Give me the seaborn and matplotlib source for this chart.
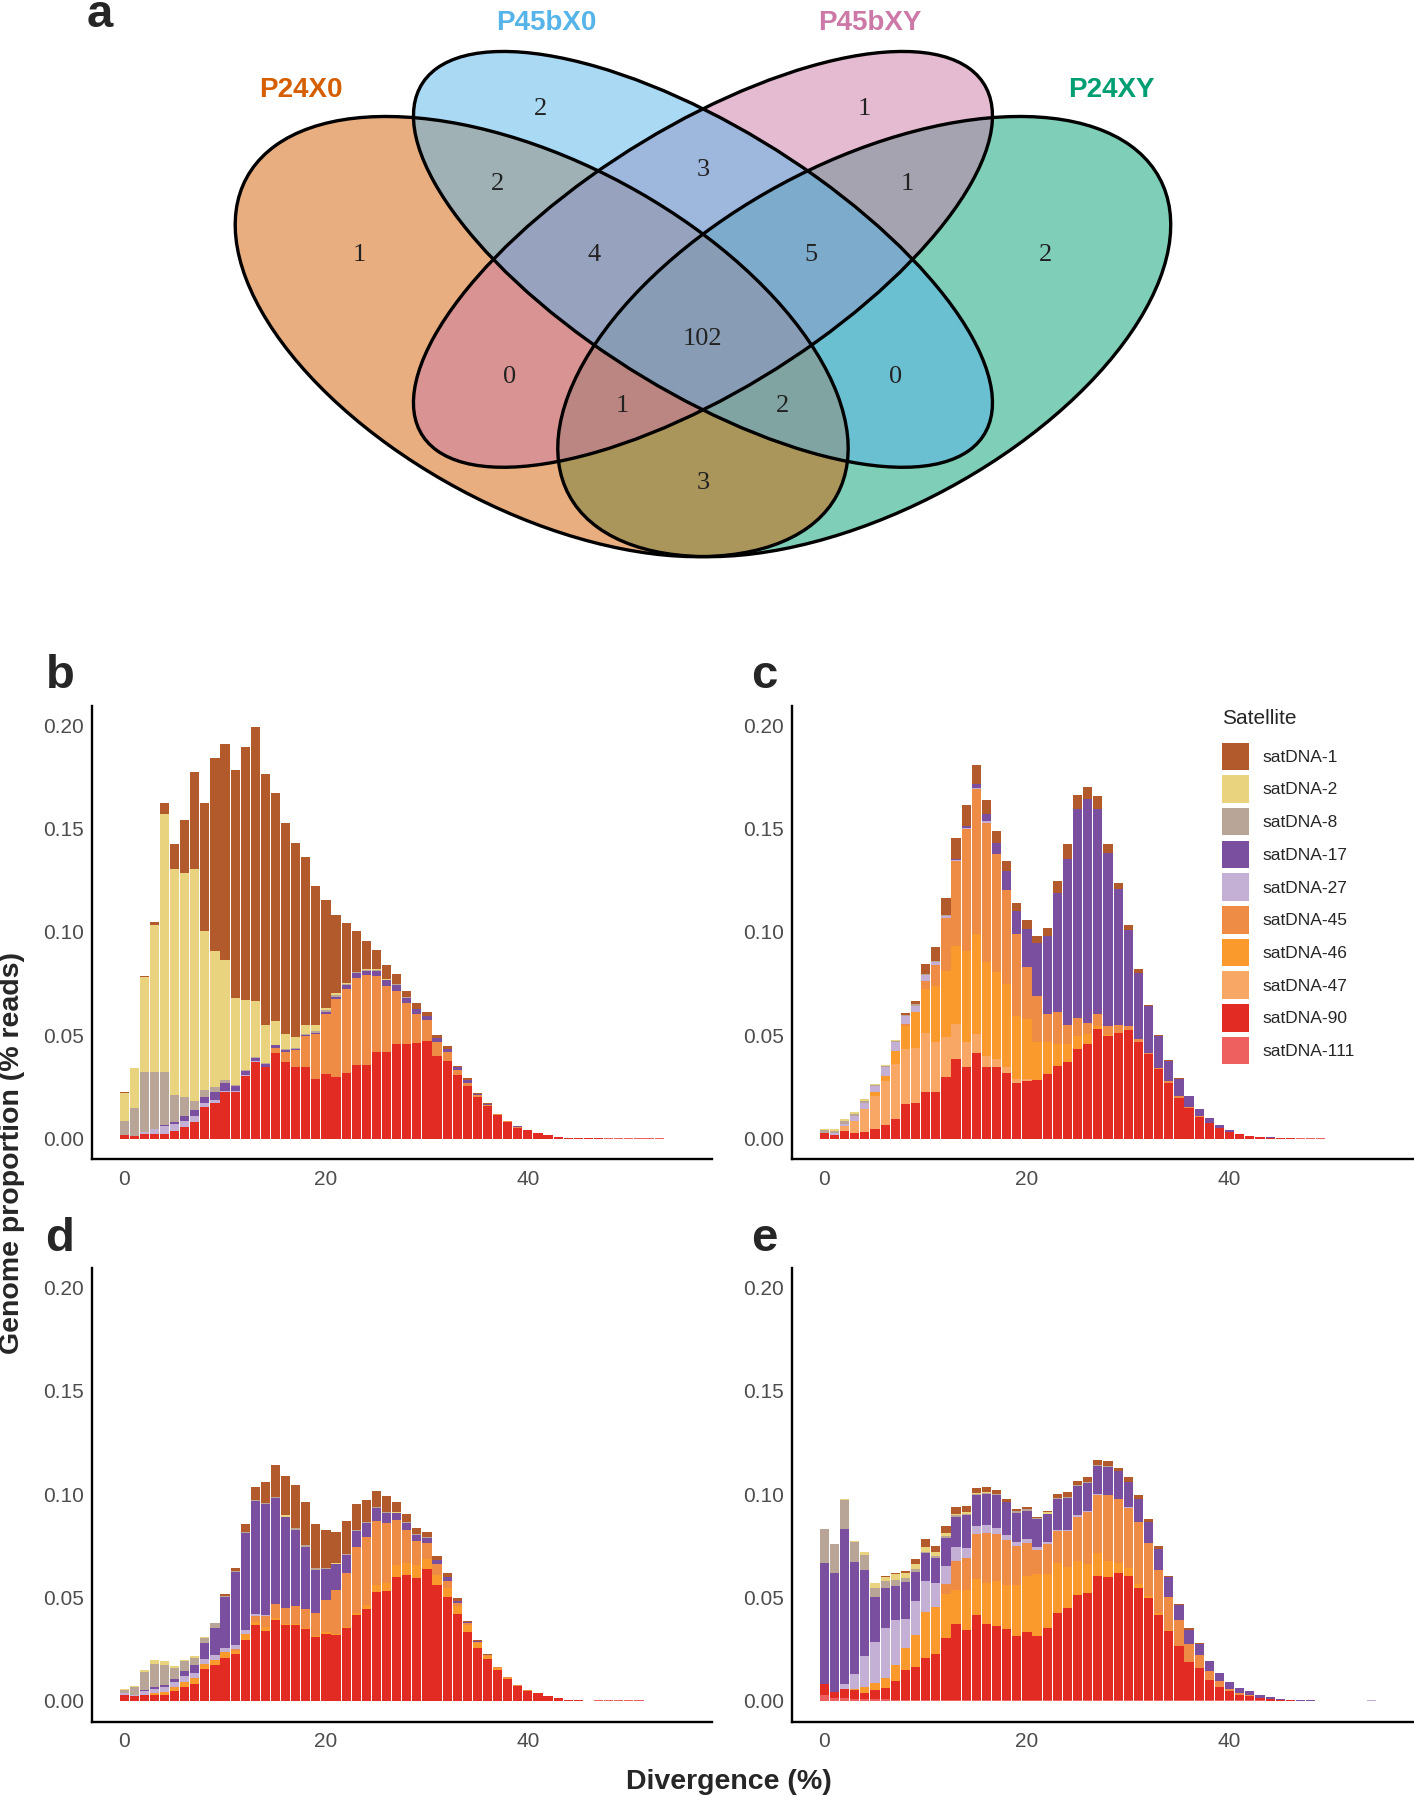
import pandas as pd
import matplotlib
matplotlib.use('Agg')
import matplotlib.pyplot as plt
from matplotlib.patches import Ellipse, Patch
from matplotlib.ticker import FormatStrFormatter
import seaborn as sns

sns.set_style('white')
plt.rcParams['font.family'] = ['Liberation Sans', 'DejaVu Sans']

# ---- Venn (panel a) ----
set_names = ['P24X0', 'P45bX0', 'P45bXY', 'P24XY']
set_colors = ['#D55E00', '#56B4E9', '#CC79A7', '#009E73']
# counts
region_counts = [1, 2, 1, 2, 2, 3, 1, 4, 5, 102, 0, 0, 1, 2, 3]

# ---- satellites ----
satellites = ['satDNA-1', 'satDNA-2', 'satDNA-8', 'satDNA-17', 'satDNA-27',
              'satDNA-45', 'satDNA-46', 'satDNA-47', 'satDNA-90', 'satDNA-111']
sat_colors = ['#B25A2C', '#E9D37E', '#B8A598', '#7A4FA0', '#C5B0D5',
              '#EE8C45', '#FA9A2C', '#F8A765', '#E22B22', '#EE6060']
n_bins = 55
divergence = list(range(n_bins))

# genome proportion per 1% divergence bin (trailing zeros left out)
b_sat1 = [.0005, .0003, .0005, .0013, .0056, .0117, .0253, .0468, .0618, .0932,
          .1045, .1103, .1226, .1326, .1215, .1105, .1024, .0937, .0812, .0675,
          .0521, .0375, .0287, .0194, .0136, .0091, .0068, .0047, .0030, .0027,
          .0019, .0013, .0012, .0005, .0010, .0006, .0003]
b_sat2 = [.0134, .0192, .0460, .0710, .1250, .1096, .1084, .1124, .0771, .0661,
          .0582, .0421, .0339, .0272, .0183, .0114, .0074, .0055, .0040, .0029,
          .0013, .0013, .0008, .0003, .0003, .0004, .0002]
b_sat8 = [.0068, .0134, .0290, .0276, .0255, .0130, .0093, .0042, .0031, .0024,
          .0013, .0006, .0005, .0003, .0003, .0003, .0002, .0002, .0005, .0006,
          .0008, .0006, .0005, .0005, .0004, .0006, .0003, .0003, .0003]
b_sat17 = [0, 0, 0, 0, .0005, .0011, .0025, .0029, .0032, .0036,
           .0036, .0023, .0020, .0016, .0015, .0012, .0010, .0006, .0006, .0008,
           .0008, .0013, .0019, .0021, .0021, .0023, .0027, .0029, .0027, .0027,
           .0021, .0019, .0016, .0013, .0011, .0004, .0004, .0003, 0, .0005]
b_sat27 = [0, 0, .0010, .0023, .0037, .0032, .0030, .0029, .0018, .0014,
           .0009, .0006, .0004, .0005]
b_sat45 = [0, 0, 0, 0, 0, 0, 0, 0, 0, 0,
           0, 0, 0, .0002, .0004, .0024, .0051, .0082, .0150, .0215,
           .0294, .0374, .0408, .0424, .0434, .0368, .0318, .0259, .0199, .0142,
           .0099, .0068, .0043, .0026, .0016, .0008, .0006, .0005, .0003, .0002]
b_sat90 = [.0016, .0013, .0023, .0024, .0023, .0037, .0055, .0082, .0153, .0173,
           .0223, .0223, .0303, .0368, .0344, .0416, .0368, .0347, .0347, .0290,
           .0311, .0300, .0315, .0355, .0356, .0419, .0421, .0456, .0456, .0460,
           .0474, .0400, .0376, .0306, .0255, .0203, .0158, .0113, .0082, .0053,
           .0040, .0027, .0015, .0008, .0005, .0003, .0002, .0002, .0001]
b_sat111 = [0, 0, 0, 0, 0, 0, 0, 0, 0, 0,
            0, 0, 0, 0, 0, 0, 0, 0, 0, 0,
            0, 0, 0, 0, 0, 0, 0, 0, 0, 0,
            0, 0, 0, 0, 0, 0, 0, 0, 0, 0,
            0, 0, 0, 0, 0, 0, 0, 0, .0002, .0003,
            .0003, .0003, .0003, .0003]

c_sat1 = [0, 0, 0, 0, 0, 0, 0, 0, .0009, .0016,
          .0046, .0065, .0083, .0101, .0099, .0092, .0070, .0057, .0049, .0040,
          .0040, .0036, .0042, .0057, .0069, .0066, .0055, .0061, .0043, .0031,
          .0022, .0016, .0006, .0006, .0005, .0005]
c_sat2 = [.0006, .0008, .0010, .0011, .0010, .0007, .0004, .0006]
c_sat8 = [.0016, .0010, .0016, .0008, .0006, .0006, .0008, .0006, .0006, .0011,
          .0008, .0005, .0005]
c_sat17 = [0, 0, 0, 0, 0, 0, 0, 0, 0, 0,
           0, 0, 0, .0006, .0011, .0019, .0032, .0056, .0092, .0113,
           .0186, .0256, .0377, .0577, .0805, .1012, .1084, .0995, .0839, .0658,
           .0465, .0322, .0223, .0151, .0098, .0081, .0051, .0033, .0020, .0013,
           .0008, .0003, 0, 0, .0002]
c_sat27 = [0, .0008, .0008, .0025, .0032, .0029, .0041, .0041, .0040, .0026,
           .0027, .0016, .0010, .0005, .0002, .0006, .0008]
c_sat45 = [0, 0, 0, 0, 0, 0, 0, 0, .0008, .0003,
           .0040, .0100, .0254, .0412, .0592, .0701, .0677, .0570, .0456, .0395,
           .0250, .0224, .0137, .0154, .0094, .0088, .0057, .0057, .0046, .0035,
           .0019, .0013, .0008, .0008, .0008, .0008, .0005, .0003]
c_sat46 = [0, 0, 0, 0, 0, .0017, .0024, .0064, .0113, .0170,
           .0210, .0274, .0322, .0379, .0443, .0484, .0452, .0422, .0403, .0304,
           .0290, .0181, .0154, .0104, .0088, .0065, .0048, .0016, .0005]
c_sat47 = [0, 0, .0024, .0056, .0110, .0158, .0214, .0266, .0266, .0269,
           .0286, .0242, .0191, .0169, .0121, .0089, .0052, .0037, .0025, .0019,
           .0011]
c_sat90 = [.0026, .0019, .0037, .0029, .0032, .0048, .0065, .0094, .0166, .0171,
           .0227, .0223, .0298, .0384, .0344, .0416, .0348, .0347, .0319, .0271,
           .0279, .0284, .0311, .0352, .0368, .0432, .0456, .0529, .0494, .0513,
           .0526, .0468, .0408, .0335, .0268, .0198, .0150, .0106, .0077, .0053,
           .0032, .0021, .0013, .0008, .0005, .0003, .0002]
c_sat111 = [0, 0, 0, 0, 0, 0, 0, 0, 0, 0,
            0, 0, 0, 0, 0, 0, 0, 0, 0, 0,
            0, 0, 0, 0, 0, 0, 0, 0, 0, 0,
            0, 0, 0, 0, 0, 0, 0, 0, 0, 0,
            0, 0, 0, 0, 0, 0, 0, .0003, .0003, .0003]

d_sat1 = [0, 0, 0, 0, 0, 0, 0, 0, 0, 0,
          .0010, .0017, .0039, .0064, .0101, .0152, .0193, .0210, .0210, .0214,
          .0183, .0150, .0159, .0124, .0107, .0077, .0073, .0045, .0039, .0026,
          .0024, .0021, .0016, .0011, .0006, .0005, .0005]
d_sat2 = [.0008, .0006, .0009, .0016, .0019, .0008, .0006, .0006, .0006, .0003,
          0, 0, 0, 0, 0, 0, .0005, 0, 0, 0,
          0, .0008, 0, 0, 0, 0, 0, .0008]
d_sat8 = [.0016, .0037, .0090, .0115, .0094, .0055, .0050, .0037, .0024, .0020,
          .0005, .0006, .0005, .0005, .0005, .0006, 0, .0008, .0008, .0008,
          .0006, 0, .0006, .0008, .0005, .0006, .0008, 0, .0008, .0006,
          .0005]
d_sat17 = [0, 0, .0003, .0006, .0011, .0013, .0024, .0036, .0076, .0134,
           .0247, .0352, .0469, .0548, .0534, .0513, .0441, .0368, .0302, .0210,
           .0150, .0125, .0089, .0078, .0064, .0064, .0049, .0032, .0032, .0029,
           .0027, .0021, .0021, .0013, .0008, .0006]
d_sat27 = [.0009, .0008, .0017, .0024, .0024, .0024, .0028, .0026, .0021, .0021,
           .0020, .0017, .0016, .0008, .0006]
d_sat45 = [0, 0, 0, 0, 0, 0, 0, 0, 0, 0,
           0, .0010, 0, .0029, .0054, .0069, .0079, .0087, .0092, .0109,
           .0157, .0210, .0261, .0320, .0331, .0307, .0290, .0218, .0161, .0116,
           .0076, .0052, .0036, .0013, .0008, .0008, .0006, .0006, .0005, .0003,
           .0005]
d_sat46 = [0, 0, 0, .0005, .0013, .0021, .0027, .0029, .0028, .0027,
           .0029, .0018, .0032, .0016, .0020, .0008, .0005, .0005, .0005, .0005,
           .0005, .0005, .0005, .0005, .0017, .0036, .0037, .0057, .0057, .0062,
           .0049, .0048, .0043, .0039, .0033, .0024, .0016, .0008, .0003]
d_sat90 = [.0027, .0023, .0031, .0031, .0031, .0047, .0065, .0082, .0153, .0173,
           .0208, .0225, .0294, .0367, .0338, .0391, .0367, .0367, .0347, .0309,
           .0326, .0321, .0351, .0418, .0447, .0525, .0532, .0601, .0609, .0596,
           .0638, .0561, .0501, .0420, .0334, .0254, .0202, .0152, .0108, .0073,
           .0047, .0037, .0024, .0015, .0006, .0003, .0002]
d_sat111 = [0, 0, 0, 0, 0, 0, 0, 0, 0, 0,
            0, 0, 0, 0, 0, 0, 0, 0, 0, 0,
            0, 0, 0, 0, 0, 0, 0, 0, 0, 0,
            0, 0, 0, 0, 0, 0, 0, 0, 0, 0,
            0, 0, 0, 0, 0, 0, 0, .0003, .0003, .0003,
            .0003, .0003]

e_sat1 = [0, 0, 0, 0, 0, 0, .0005, .0007, .0013, .0026,
          .0038, .0028, .0037, .0034, .0032, .0026, .0024, .0019, .0014, .0010,
          .0012, .0007, .0009, .0017, .0023, .0020, .0023, .0026, .0026, .0016,
          .0020, .0017, .0016, .0016, .0006, .0006, .0009, .0004]
e_sat2 = [0, 0, .0005, .0007, .0016, .0024, .0021, .0027, .0024, .0024,
          .0024, .0021, .0013, .0009, .0008, .0006, .0005, 0, 0, 0,
          0, 0, .0006]
e_sat8 = [.0166, .0138, .0143, .0097, .0073, .0046, .0032, .0029, .0016, .0012,
          .0008, .0008, .0008, .0005, .0005, .0005, .0005, .0003, .0003, .0008,
          .0008, .0005, 0, .0006, .0006, .0006, .0006, .0003, .0003, .0003,
          .0003]
e_sat17 = [.0582, .0576, .0749, .0542, .0415, .0219, .0194, .0165, .0181, .0140,
           .0134, .0123, .0136, .0146, .0162, .0146, .0149, .0159, .0157, .0144,
           .0135, .0134, .0139, .0150, .0154, .0140, .0132, .0137, .0135, .0131,
           .0120, .0110, .0098, .0102, .0094, .0073, .0069, .0054, .0048, .0041,
           .0032, .0024, .0019, .0012, .0010, .0003, .0002, .0002, .0002, .0002,
           .0002, .0002, .0002]
e_sat27 = [0, 0, .0021, .0068, .0152, .0196, .0243, .0215, .0139, .0167,
           .0152, .0114, .0089, .0069, .0045, .0040, .0040, .0030, .0024, .0016,
           .0021, .0016, .0009, .0005, .0005, .0008, .0005, .0003, .0003, .0003,
           .0003, .0003, .0003, 0, 0, 0, 0, 0, 0, 0,
           0, .0003, 0, 0, 0, 0, 0, 0, 0, 0,
           0, 0, 0, 0, .0003]
e_sat45 = [0, 0, 0, 0, 0, 0, 0, 0, 0, 0,
           0, 0, .0048, .0141, .0157, .0218, .0239, .0226, .0218, .0190,
           .0157, .0118, .0146, .0156, .0173, .0215, .0255, .0283, .0317, .0310,
           .0290, .0299, .0254, .0207, .0161, .0124, .0087, .0061, .0044, .0027,
           .0013, .0005, .0005]
e_sat46 = [0, 0, 0, .0008, .0026, .0035, .0048, .0081, .0108, .0153,
           .0220, .0231, .0212, .0166, .0194, .0172, .0202, .0219, .0214, .0248,
           .0272, .0297, .0257, .0243, .0198, .0165, .0138, .0108, .0076, .0049,
           .0039, .0021, .0010, .0008, .0005]
e_sat47 = [0, 0, 0, 0, 0, 0, 0, 0, 0, 0,
           0, 0, 0, 0, 0, .0003]
e_sat90 = [.0053, .0029, .0045, .0041, .0029, .0044, .0055, .0089, .0144, .0160,
           .0203, .0220, .0300, .0365, .0337, .0410, .0365, .0358, .0342, .0308,
           .0329, .0310, .0350, .0418, .0446, .0507, .0518, .0601, .0596, .0612,
           .0601, .0539, .0494, .0413, .0333, .0262, .0182, .0156, .0097, .0065,
           .0044, .0028, .0021, .0012, .0007, .0004, .0002]
e_sat111 = [.0031, .0015, .0015, .0011, .0011, .0008, .0008, .0006, .0005, .0005,
            .0005, .0005, .0005, .0005, .0005, .0005, .0005, .0005, .0005, .0005,
            .0005, .0005, .0005, .0005, .0005, .0005, .0005, .0005, .0005, .0005,
            .0005, .0005, .0005, .0005, .0005, .0005, .0004, .0004, .0003, .0003,
            .0003, .0003, .0003, .0003, .0002, .0001, .0001, .0001, .0001]

panels = {
    'b': {'satDNA-1': b_sat1, 'satDNA-2': b_sat2, 'satDNA-8': b_sat8, 'satDNA-17': b_sat17,
          'satDNA-27': b_sat27, 'satDNA-45': b_sat45, 'satDNA-90': b_sat90, 'satDNA-111': b_sat111},
    'c': {'satDNA-1': c_sat1, 'satDNA-2': c_sat2, 'satDNA-8': c_sat8, 'satDNA-17': c_sat17,
          'satDNA-27': c_sat27, 'satDNA-45': c_sat45, 'satDNA-46': c_sat46, 'satDNA-47': c_sat47,
          'satDNA-90': c_sat90, 'satDNA-111': c_sat111},
    'd': {'satDNA-1': d_sat1, 'satDNA-2': d_sat2, 'satDNA-8': d_sat8, 'satDNA-17': d_sat17,
          'satDNA-27': d_sat27, 'satDNA-45': d_sat45, 'satDNA-46': d_sat46,
          'satDNA-90': d_sat90, 'satDNA-111': d_sat111},
    'e': {'satDNA-1': e_sat1, 'satDNA-2': e_sat2, 'satDNA-8': e_sat8, 'satDNA-17': e_sat17,
          'satDNA-27': e_sat27, 'satDNA-45': e_sat45, 'satDNA-46': e_sat46, 'satDNA-47': e_sat47,
          'satDNA-90': e_sat90, 'satDNA-111': e_sat111},
}


def panel_frame(series):
    rows = []
    for sat in satellites:
        vals = list(series.get(sat, []))
        vals = vals + [0.0] * (n_bins - len(vals))
        for k, v in zip(divergence, vals):
            rows.append((k, v, sat))
    return pd.DataFrame(rows, columns=['divergence', 'proportion', 'satellite'])


W, H = 1414, 1800
fig = plt.figure(figsize=(W / 100, H / 100), dpi=100)

# ---------------- Venn diagram ----------------
axv = fig.add_axes([0, 1 - 700 / H, 1, 700 / H])
axv.set_xlim(-0.1538, 1.1613)
axv.set_ylim(-0.00065, 0.9059)
axv.axis('off')
ell_geo = [((0.35, 0.47), 0.35, 0.20, -45),
           ((0.50, 0.57), 0.35, 0.15, -45),
           ((0.50, 0.57), 0.35, 0.15, 45),
           ((0.65, 0.47), 0.35, 0.20, 45)]
# fills stacked green, orange, pink, blue (as in the reference blending)
for i in [3, 0, 2, 1]:
    cxy, a, b, ang = ell_geo[i]
    axv.add_patch(Ellipse(cxy, 2 * a, 2 * b, angle=ang, facecolor=set_colors[i], alpha=0.5,
                          edgecolor='none'))
for (cxy, a, b, ang) in ell_geo:
    axv.add_patch(Ellipse(cxy, 2 * a, 2 * b, angle=ang, fill=False,
                          edgecolor='black', linewidth=2.4))

count_pos = [(0.180, 0.576), (0.349, 0.765), (0.650, 0.765), (0.819, 0.576),
             (0.309, 0.667), (0.500, 0.686), (0.690, 0.667),
             (0.399, 0.576), (0.600, 0.576), (0.500, 0.467),
             (0.320, 0.418), (0.679, 0.418), (0.425, 0.380), (0.574, 0.380),
             (0.500, 0.280)]
for (u, v), n in zip(count_pos, region_counts):
    axv.text(u, v, str(n), ha='center', va='center', fontsize=19,
             family=['Liberation Serif', 'DejaVu Serif'], color='#222222')

name_pos = [(0.126, 0.789), (0.354, 0.876), (0.655, 0.876), (0.880, 0.789)]
for (u, v), name, col in zip(name_pos, set_names, set_colors):
    axv.text(u, v, name, ha='center', va='center', fontsize=20, fontweight='bold', color=col)

# ---------------- stacked histograms ----------------
pal = dict(zip(satellites, sat_colors))
ax_rects = {
    'b': [91.8 / W, 1 - 1159.2 / H, 619.8 / W, 453.4 / H],
    'c': [791.9 / W, 1 - 1159.2 / H, (W - 791.9) / W, 453.4 / H],
    'd': [91.8 / W, 1 - 1721.6 / H, 619.8 / W, 453.6 / H],
    'e': [791.9 / W, 1 - 1721.6 / H, (W - 791.9) / W, 453.6 / H],
}
axes = {}
for key, rect in ax_rects.items():
    ax = fig.add_axes(rect)
    df = panel_frame(panels[key])
    sns.histplot(data=df, x='divergence', weights='proportion', hue='satellite',
                 hue_order=satellites, palette=pal, multiple='stack', discrete=True,
                 shrink=0.91, alpha=1, edgecolor='none', linewidth=0, legend=False, ax=ax)
    ax.set_xlim(-3.2, 58.2)
    ax.set_ylim(-0.01, 0.2094)
    ax.set_xticks([0, 20, 40])
    ax.set_yticks([0, 0.05, 0.10, 0.15, 0.20])
    ax.yaxis.set_major_formatter(FormatStrFormatter('%.2f'))
    ax.set_xlabel('')
    ax.set_ylabel('')
    sns.despine(ax=ax)
    for s in ['left', 'bottom']:
        ax.spines[s].set_linewidth(1.7)
        ax.spines[s].set_color('black')
    ax.tick_params(axis='both', length=3.5, width=1.1, color='#333333',
                   labelsize=15, labelcolor='#4D4D4D', pad=2, direction='out')
    ax.tick_params(axis='x', pad=4)
    axes[key] = ax

# legend (title placed separately for ggplot-like spacing)
fig.text(1222 / W, 1 - 719 / H, 'Satellite', ha='left', va='center', fontsize=15)
handles = [Patch(facecolor=c, edgecolor='none') for c in sat_colors]
leg = axes['c'].legend(handles, satellites, loc='upper left',
                       bbox_to_anchor=(1222 / W, 1 - 742.5 / H), bbox_transform=fig.transFigure,
                       frameon=False, fontsize=12.5,
                       handlelength=1.58, handleheight=2.06, labelspacing=0.3,
                       handletextpad=0.75, borderpad=0, borderaxespad=0)

# panel letters
for letter, (px, py) in {'a': (100, 27), 'b': (60, 688), 'c': (764, 688),
                         'd': (60, 1251), 'e': (764, 1251)}.items():
    fig.text(px / W, 1 - py / H, letter, ha='center', va='baseline',
             fontsize=34, fontweight='bold')

fig.text(729 / W, 1 - 1782 / H, 'Divergence (%)', ha='center', va='center',
         fontsize=20.5, fontweight='bold')
fig.text(12 / W, 1 - 1153 / H, 'Genome proportion (% reads)', ha='center', va='center',
         rotation=90, fontsize=20.5, fontweight='bold')

fig.savefig('out.png', dpi=100)
